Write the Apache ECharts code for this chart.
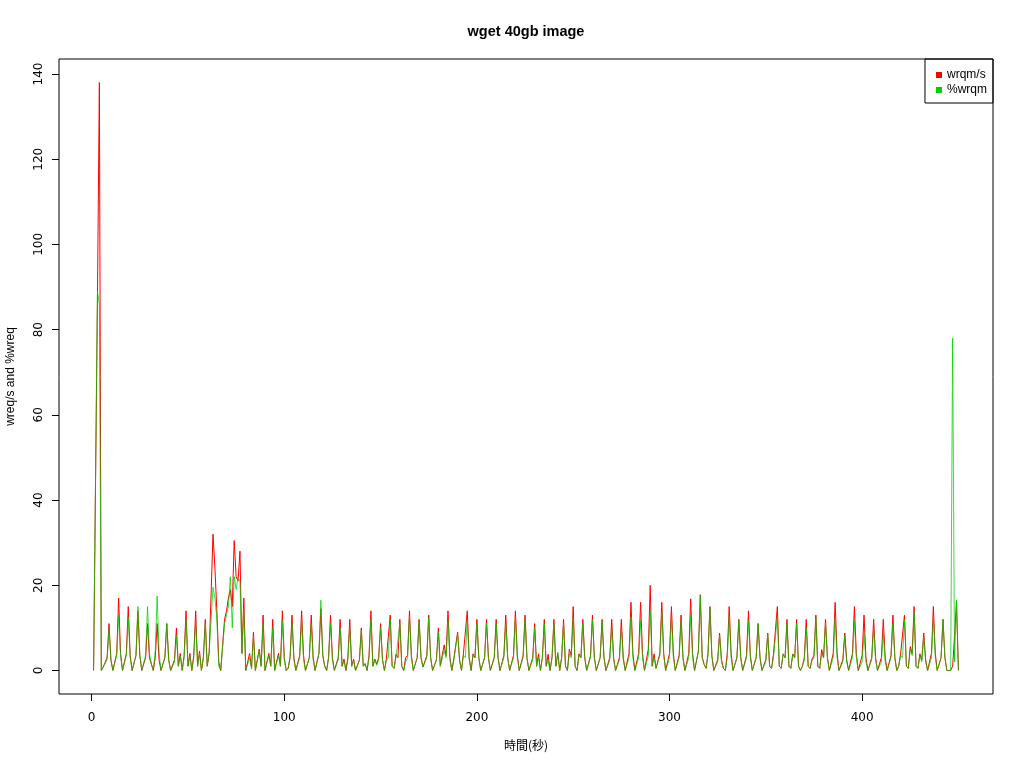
<!DOCTYPE html>
<html>
<head>
<meta charset="utf-8">
<script src="https://cdn.jsdelivr.net/npm/echarts@6/dist/echarts.min.js"></script>
<style>html,body{margin:0;padding:0;background:#fff}#c{width:1024px;height:768px}</style>
</head>
<body>
<div id="c"></div>
<script>
// wrqm/s values, one per second starting at t=1
var wrqm = [
0,0,87,138,0,0.8,1,3,11,2.5,
0,0,4,17,4,0,0,4,15,3.5,
0,0,3.5,14,3.5,0,0,3,11,3,
1.5,0,3,11,2.5,0,0,3,11,2.5,
0,0,2.5,10,1,4,0,3.5,14,1,
4,0,3.5,14,1,4.5,0,3,12,1,
4,4,32,24,14,2,0,0,12,14,
17,19,15,30.5,22,21,28,4,17,0,
0,4,0.5,9,0,0,5,1,13,0,
0,4,1,12,0,0,4,1,14,3,
0,0.5,3,13,3,0,0,3.5,14,3.5,
0,0,3,13,3,0,0,4,14.5,3.5,
1,0,3,13,3,0,0,3,12,1,
2.7,0,3,12,1,2.7,0,0,2.5,10,
1,1.6,0,3.5,14,1,2.7,1.5,3,11,
2.5,0,2.7,3,13,1,0.5,3.8,3,12,
1,0,3,3.5,14,3.5,0,0,3,12,
3,0.8,0.8,3.5,13,3,0,0,2.5,10,
1,0.8,6,3.5,14,3,0,2.7,2.5,9,
2.5,0,3.9,3.5,14,3,0,3.9,3,12,
3,0,0,3,12,3,0,0,3,12,
3,0,0,3.5,13,3,0,0,3.5,14,
3.5,0,0,3.5,13,3,0,0,3,11,
1,3.9,0,3,12,1,3.8,0,3,12,
1,4,0,3,12,1,0,5,3.5,15,
1,0,3.9,3,12,3,0,0,3.5,13,
3,0,0,3,12,3,0,0,3,12,
3,0,0,3,12,3,0,0,4,16,
4,0,0,4,16,4,0,0,5,20,
1,3.9,0.5,0.5,4,16,4,0,0,4,
15,4,0,0,3.5,13,3,0,0,4,
16.8,4,0,0,4.5,17.8,3,1.4,0.5,4,
15,3.5,0,0,2.5,8.8,2.5,0.5,0,4,
15,4,0,0,3,12,3,0,0,3.5,
14,3.5,0,0,3,11,3,0,0,2.5,
8.8,1,0.5,3.9,3.5,15,1,0.5,3.9,3,
12,1,0.5,3.9,3,12,1,0,1,3,
12,1,0.5,2.7,3.5,13,1,0.5,4.9,3,
12,3,0,0,4,16,4,0,0,2.5,
8.8,2.5,0,0,4,15,4,0,0,3.5,
13,3,0,0,3,12,3,0,0,3,
12,3,0,0,3.5,13,3,0,1,3.9,
3.5,13,1,0.5,5.6,4,15,1,0.5,3.9,
2.5,8.8,2.5,0,0,4,15,4,0,0,
3,12,3,0,0,0,1,8,16,0
];
// %wrqm values, one per second starting at t=1
var pwrqm = [
0,0,89,86,0,0.8,1,2.5,9.5,2.5,
0,0,3.5,13,3.5,0,0,3.5,12.5,3,
0,0,3.5,15,4,0,0,3.5,15,4,
1.5,0,4.5,17.5,4,0,0,3,11,2.5,
0,0,2,8,1,3.5,0,3,12,1,
3.5,0,3,11.5,1,4,0,3,11,1,
4.3,4,19.5,17,12,1,0,0,11,11,
15,22,10,22,19,22,21,4,14,0,
0,3,0.5,8,0,0,4.7,1,11,0,
0,3.5,1,10,0,0,3.5,1,11.7,2.5,
0,0.5,3,11,2.5,0,0,3,11.7,2.5,
0,0,3,11,2.5,0,0,4,16.5,3.5,
1,0,3,11,2.5,0,0,2.5,10,1,
2.3,0,2.5,10,1,2.3,0,0,2.3,9.4,
1,1.6,0,3,12,1,2.5,1.2,2.5,10,
2.5,0,2.3,3,12,1,0.5,3.1,3,11,
1,0,2,3,12.7,3,0,0,3,11.7,
3,0.8,0.8,3,12.4,3,0,0,2.5,9,
1,0.8,4.7,3,11.7,2.5,0,2.3,2.5,8.6,
2.5,0,3.5,3,12,2.5,0,3.5,3,11,
3,0,0,3,11,3,0,0,3,11,
3,0,0,3,11,3,0,0,3,12.6,
3,0,0,3,11.7,3,0,0,2.5,10,
1,3,0,3,11,1,2.3,0,3,11,
1,4.3,0,3,11,1,0,3.9,3,12.5,
1,0,3.5,3,11,3,0,0,3,12,
3,0,0,3,11.5,3,0,0,2.5,10,
2.5,0,0,2.5,10,2.5,0,0,3,12.6,
3,0,0,3,11.7,3,0,0,3.5,14,
1,3.1,0.5,0.5,3.5,13.7,3.5,0,0,3,
12.5,3,0,0,3,11.7,3,0,0,3,
12.9,3,0,0,4.5,17.6,3,1.4,0.5,3.5,
14.5,3.5,0,0,2,8.2,2,0.5,0,3,
12.9,3,0,0,3,11.7,3,0,0,3,
11.7,3,0,0,3,11,3,0,0,2,
8.6,1,0.5,3.1,3,12.7,1,0.5,3.9,3,
11,1,0.5,3.7,3,11,1,0,1,2.5,
10,1,0.5,2.3,3,12.2,1,0.5,3.9,3,
11,3,0,0,3,12.5,3,0,0,2,
8.2,2,0,0,3,11.7,3,0,0,2,
8.6,2,0,0,2.5,10,2.5,0,0,2,
8.6,2,0,0,3,11,3,0,1,3.5,
3,12,1,0.5,5,3.5,13.7,1,0.5,3.5,
2,7.8,2,0,0,3,12.5,3,0,0,
3,12,3,0,0,0,78,2,16.5,0
];
var xTicks = [0, 100, 200, 300, 400];
var yTicks = [0, 20, 40, 60, 80, 100, 120, 140];

function pairs(vals) {
  var out = [];
  for (var i = 0; i < vals.length; i++) out.push([i + 1, vals[i]]);
  return out;
}

var chart = echarts.init(document.getElementById('c'), null, {renderer: 'canvas'});
var font = 'Liberation Sans, Arial, sans-serif';
var tickFont = 'DejaVu Sans, sans-serif';
chart.setOption({
  animation: false,
  backgroundColor: '#fff',
  title: {
    text: 'wget 40gb image',
    left: 521, top: 19, textAlign: 'center',
    textStyle: {fontSize: 14.5, fontWeight: 'bold', color: '#000', fontFamily: font}
  },
  legend: {
    orient: 'vertical', right: 31, top: 59,
    borderColor: '#000', borderWidth: 1, borderRadius: 0,
    padding: [10, 6, 7, 11],
    itemWidth: 6, itemHeight: 6, itemGap: 3,
    icon: 'rect',
    textStyle: {fontSize: 12, color: '#000', fontFamily: font},
    data: ['wrqm/s', '%wrqm']
  },
  grid: {left: 59, top: 59, width: 934, height: 635, show: true, borderColor: '#000', borderWidth: 1, outerBoundsMode: 'none', containLabel: false},
  xAxis: {
    type: 'value', min: -16.96, max: 467.96,
    name: '時間(秒)', nameLocation: 'middle', nameGap: 45,
    nameTextStyle: {fontSize: 12, color: '#000', fontFamily: 'Noto Sans CJK JP, ' + font},
    axisLine: {show: false, onZero: false},
    splitLine: {show: false},
    axisTick: {show: true, inside: false, length: 7, lineStyle: {color: '#000'}, customValues: xTicks},
    axisLabel: {show: true, margin: 18, fontSize: 12, color: '#000', fontFamily: tickFont, customValues: xTicks}
  },
  yAxis: {
    type: 'value', min: -5.52, max: 143.52,
    name: 'wreq/s and %wreq', nameLocation: 'middle', nameGap: 42, nameRotate: 90,
    nameTextStyle: {fontSize: 12, color: '#000', fontFamily: font},
    axisLine: {show: false, onZero: false},
    splitLine: {show: false},
    axisTick: {show: true, inside: false, length: 7, lineStyle: {color: '#000'}, customValues: yTicks},
    axisLabel: {show: true, rotate: 90, margin: 14, fontSize: 12, color: '#000', fontFamily: tickFont, customValues: yTicks}
  },
  series: [
    {
      name: 'wrqm/s', type: 'line', data: pairs(wrqm), showSymbol: false, symbol: 'none',
      lineStyle: {color: '#FF0000', width: 1}, itemStyle: {color: '#FF0000'}, z: 2
    },
    {
      name: '%wrqm', type: 'line', data: pairs(pwrqm), showSymbol: false, symbol: 'none',
      lineStyle: {color: '#00CD00', width: 1, opacity: 0.75}, itemStyle: {color: '#00CD00'}, z: 3
    }
  ]
});
</script>
</body>
</html>
